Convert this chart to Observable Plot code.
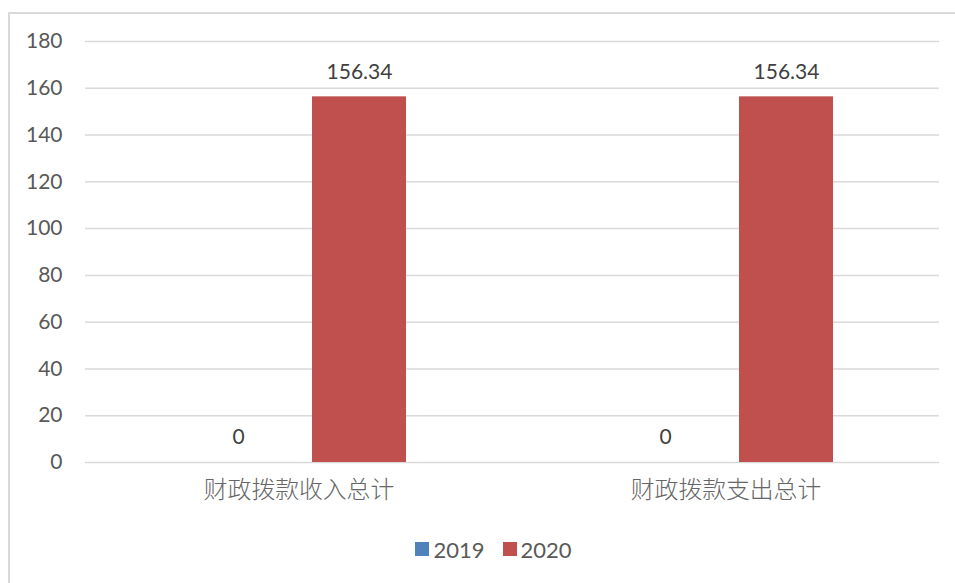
<!DOCTYPE html>
<html>
<head>
<meta charset="utf-8">
<script src="https://cdn.jsdelivr.net/npm/d3@7"></script>
<script src="https://cdn.jsdelivr.net/npm/@observablehq/plot@0.6"></script>
<style>
  html, body { margin: 0; padding: 0; background: #fff; overflow: hidden; }
  #frame {
    position: absolute; left: 8px; top: 12px;
    width: 960px; height: 600px;
    border: 2px solid #d9d9d9; box-sizing: border-box;
    background: #fff;
  }
  #chart { position: absolute; left: 0; top: 0; }
  #legend {
    position: absolute; left: 11px; top: 521px; width: 945px; height: 28px;
    display: flex; justify-content: center; align-items: center; gap: 18px;
    font-family: Lato, "Noto Sans CJK SC", sans-serif; font-size: 22px; color: #595959;
  }
  .item { display: flex; align-items: center; gap: 4px; }
  .sw { width: 14px; height: 14px; display: inline-block; }
</style>
</head>
<body>
<div id="frame">
  <div id="chart"></div>
  <div id="legend"></div>
</div>
<script>
const categories = ["财政拨款收入总计", "财政拨款支出总计"];
const years = ["2019", "2020"];
const values2019 = [0, 0];
const values2020 = [156.34, 156.34];
const colors = ["#4f81bd", "#c0504d"];
const yTicks = [0, 20, 40, 60, 80, 100, 120, 140, 160, 180];

const data = [];
categories.forEach((c, i) => {
  data.push({category: c, year: years[0], value: values2019[i]});
  data.push({category: c, year: years[1], value: values2020[i]});
});

const chart = Plot.plot({
  width: 945,
  height: 520,
  marginLeft: 74,
  marginRight: 16,
  marginTop: 27,
  marginBottom: 72,
  style: {fontFamily: "Lato, 'Noto Sans CJK SC', sans-serif", color: "#595959", background: "transparent"},
  fx: {domain: categories, padding: 0, label: null},
  x: {domain: years, paddingInner: 0.221, paddingOuter: 0.862, axis: null},
  y: {domain: [0, 180], ticks: yTicks, label: null},
  color: {domain: years, range: colors},
  marks: [
    Plot.gridY(yTicks, {stroke: "#d9d9d9", strokeOpacity: 1, strokeWidth: 1.5}),
    Plot.axisY(yTicks, {tickSize: 0, tickPadding: 23, fontSize: 21, fill: "#595959", label: null}),
    Plot.axisFx({anchor: "bottom", tickSize: 0, tickPadding: 19, fontSize: 23.8, fill: "#666666", label: null,
      fontFamily: "'Noto Sans CJK SC', sans-serif", fontWeight: 300}),
    Plot.barY(data, {fx: "category", x: "year", y: "value", fill: "year"}),
    Plot.text(data, {fx: "category", x: "year", y: "value", text: d => String(d.value),
      dy: -25, fontSize: 21, fill: "#404040"})
  ]
});
document.getElementById("chart").appendChild(chart);

const legend = document.getElementById("legend");
years.forEach((y, i) => {
  const item = document.createElement("div");
  item.className = "item";
  const sw = document.createElement("span");
  sw.className = "sw";
  sw.style.background = colors[i];
  const t = document.createElement("span");
  t.textContent = y;
  item.appendChild(sw);
  item.appendChild(t);
  legend.appendChild(item);
});
</script>
</body>
</html>
